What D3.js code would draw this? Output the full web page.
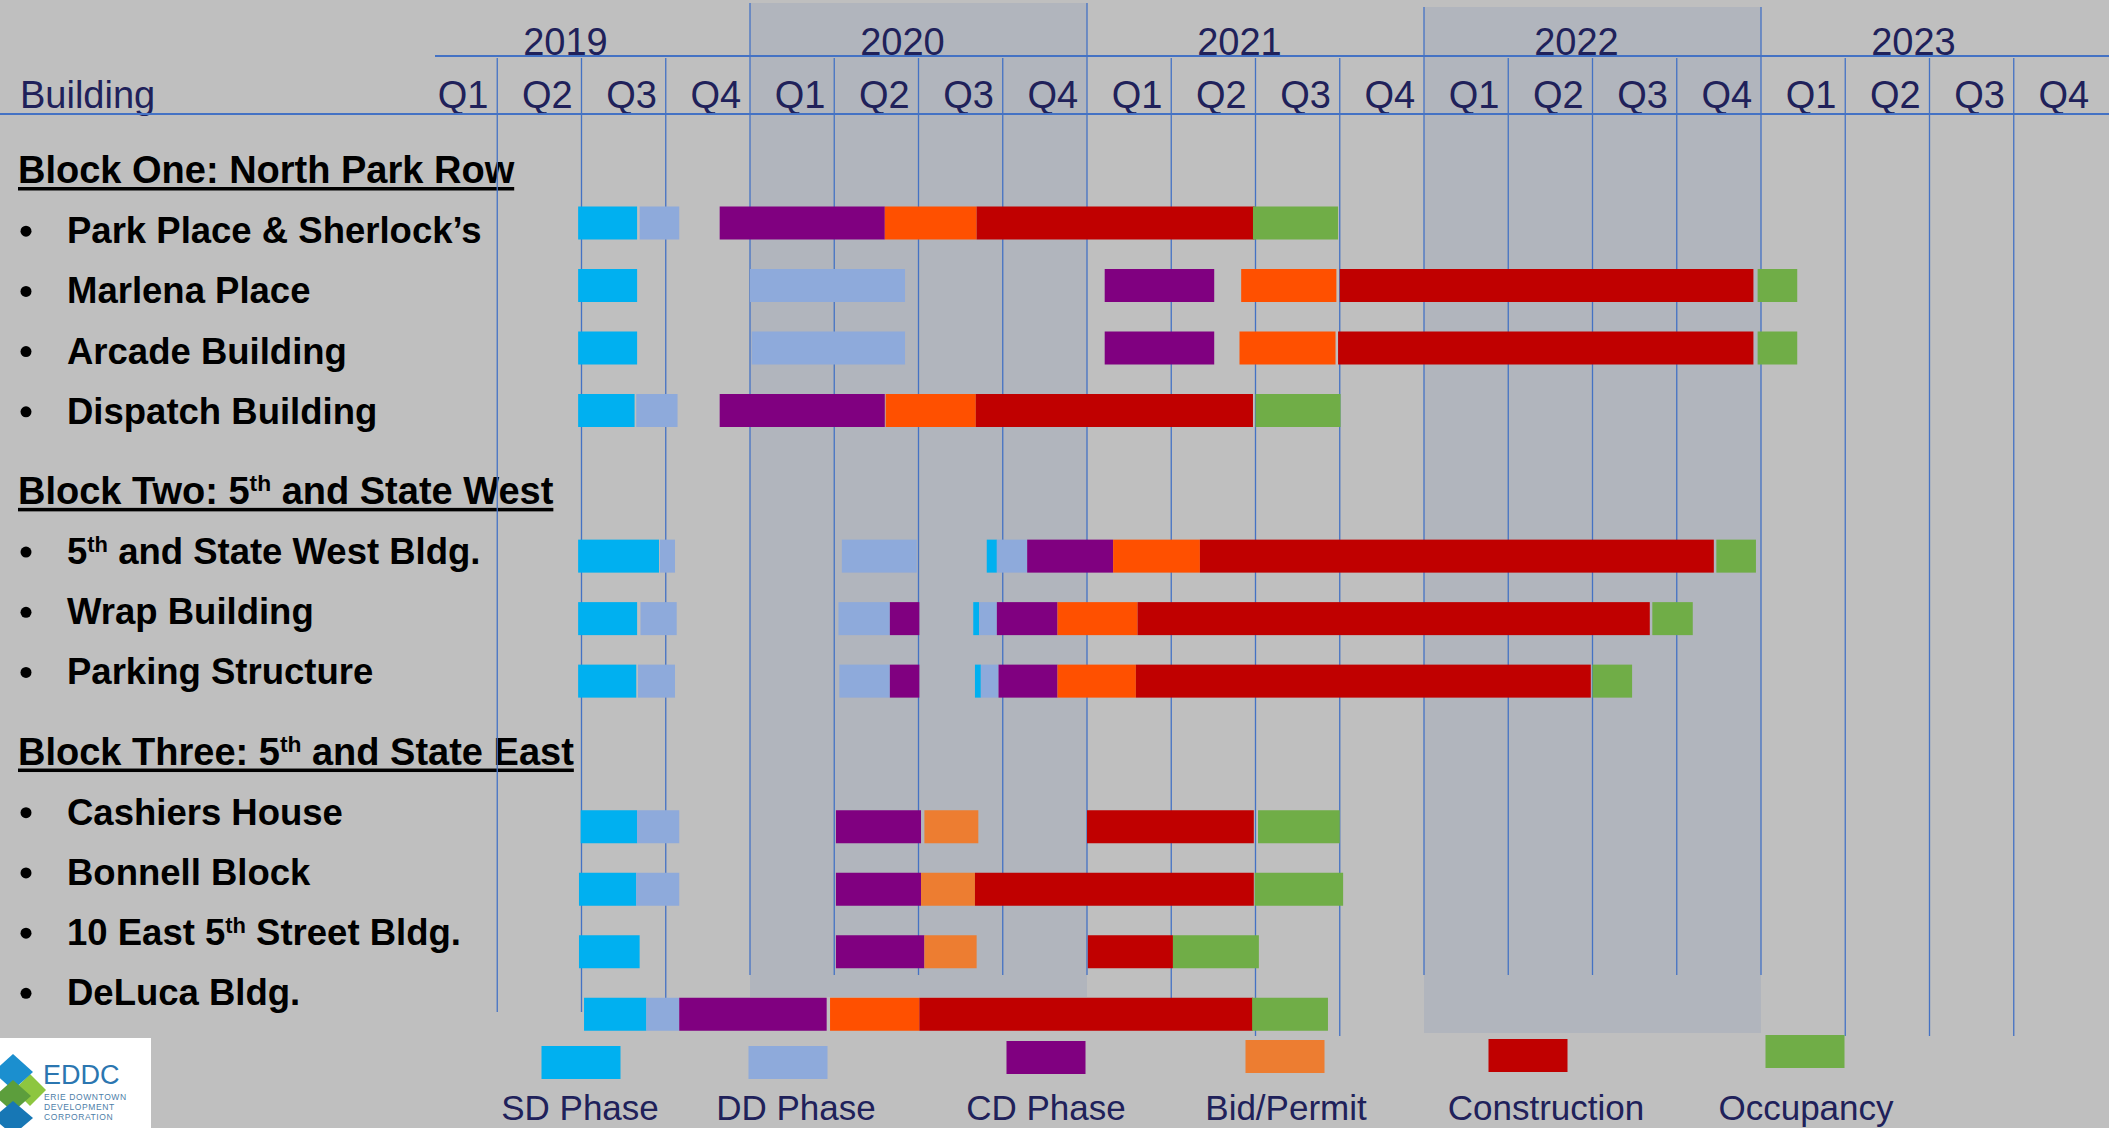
<!DOCTYPE html>
<html>
<head>
<meta charset="utf-8">
<script src="https://cdn.jsdelivr.net/npm/d3@7"></script>
<style>
    html, body { margin: 0; padding: 0; background: #bfbfbf; }
    svg { display: block; }
</style>
</head>
<body>
<svg id="chart"></svg>
<script>
// ---- data ----
const years = [2019, 2020, 2021, 2022, 2023];
const quarters = ["Q1", "Q2", "Q3", "Q4"];
const shadedYears = [2020, 2022];

const blockNames = [
    "Block One: North Park Row",
    "Block Two: 5th and State West",
    "Block Three: 5th and State East"
];
const blockBuildings = [
    ["Park Place & Sherlock’s", "Marlena Place", "Arcade Building", "Dispatch Building"],
    ["5th and State West Bldg.", "Wrap Building", "Parking Structure"],
    ["Cashiers House", "Bonnell Block", "10 East 5th Street Bldg.", "DeLuca Bldg."]
];

const phaseKeys = ["SD", "DD", "CD", "BID2", "CON", "OCC"];
const phaseNames = ["SD Phase", "DD Phase", "CD Phase", "Bid/Permit", "Construction", "Occupancy"];

// [building, phase, start, end]; start/end counted in quarters from the start of 2019
const blockOneBars = [
    ["Park Place & Sherlock’s", "SD", 1.96, 2.66],
    ["Park Place & Sherlock’s", "DD", 2.69, 3.16],
    ["Park Place & Sherlock’s", "CD", 3.64, 5.60],
    ["Park Place & Sherlock’s", "BID", 5.60, 6.69],
    ["Park Place & Sherlock’s", "CON", 6.69, 9.99],
    ["Park Place & Sherlock’s", "OCC", 9.97, 10.98],
    ["Marlena Place", "SD", 1.96, 2.66],
    ["Marlena Place", "DD", 4.00, 5.84],
    ["Marlena Place", "CD", 8.21, 9.51],
    ["Marlena Place", "BID", 9.83, 10.96],
    ["Marlena Place", "CON", 11.00, 15.91],
    ["Marlena Place", "OCC", 15.96, 16.43],
    ["Arcade Building", "SD", 1.96, 2.66],
    ["Arcade Building", "DD", 4.02, 5.84],
    ["Arcade Building", "CD", 8.21, 9.51],
    ["Arcade Building", "BID", 9.81, 10.95],
    ["Arcade Building", "CON", 10.98, 15.91],
    ["Arcade Building", "OCC", 15.96, 16.43],
    ["Dispatch Building", "SD", 1.96, 2.63],
    ["Dispatch Building", "DD", 2.65, 3.14],
    ["Dispatch Building", "CD", 3.64, 5.60],
    ["Dispatch Building", "BID", 5.61, 6.68],
    ["Dispatch Building", "CON", 6.68, 9.97],
    ["Dispatch Building", "OCC", 10.00, 11.01]
];
const blockTwoBars = [
    ["5th and State West Bldg.", "SD", 1.96, 2.92],
    ["5th and State West Bldg.", "DD", 2.93, 3.11],
    ["5th and State West Bldg.", "DD", 5.09, 5.98],
    ["5th and State West Bldg.", "SD", 6.81, 6.93],
    ["5th and State West Bldg.", "DD", 6.93, 7.29],
    ["5th and State West Bldg.", "CD", 7.29, 8.31],
    ["5th and State West Bldg.", "BID", 8.31, 9.34],
    ["5th and State West Bldg.", "CON", 9.34, 15.44],
    ["5th and State West Bldg.", "OCC", 15.47, 15.94],
    ["Wrap Building", "SD", 1.96, 2.66],
    ["Wrap Building", "DD", 2.70, 3.13],
    ["Wrap Building", "DD", 5.05, 5.66],
    ["Wrap Building", "CD", 5.66, 6.01],
    ["Wrap Building", "SD", 6.65, 6.72],
    ["Wrap Building", "DD", 6.72, 6.93],
    ["Wrap Building", "CD", 6.93, 7.65],
    ["Wrap Building", "BID", 7.65, 8.60],
    ["Wrap Building", "CON", 8.60, 14.68],
    ["Wrap Building", "OCC", 14.71, 15.19],
    ["Parking Structure", "SD", 1.96, 2.65],
    ["Parking Structure", "DD", 2.67, 3.11],
    ["Parking Structure", "DD", 5.06, 5.66],
    ["Parking Structure", "CD", 5.66, 6.01],
    ["Parking Structure", "SD", 6.67, 6.74],
    ["Parking Structure", "DD", 6.74, 6.95],
    ["Parking Structure", "CD", 6.95, 7.65],
    ["Parking Structure", "BID", 7.65, 8.58],
    ["Parking Structure", "CON", 8.58, 13.98],
    ["Parking Structure", "OCC", 14.00, 14.47]
];
const blockThreeBars = [
    ["Cashiers House", "SD", 1.99, 2.66],
    ["Cashiers House", "DD", 2.66, 3.16],
    ["Cashiers House", "CD", 5.02, 6.03],
    ["Cashiers House", "BID2", 6.07, 6.71],
    ["Cashiers House", "CON", 8.00, 9.98],
    ["Cashiers House", "OCC", 10.03, 11.00],
    ["Bonnell Block", "SD", 1.97, 2.65],
    ["Bonnell Block", "DD", 2.65, 3.16],
    ["Bonnell Block", "CD", 5.02, 6.03],
    ["Bonnell Block", "BID2", 6.03, 6.67],
    ["Bonnell Block", "CON", 6.67, 9.98],
    ["Bonnell Block", "OCC", 9.99, 11.04],
    ["10 East 5th Street Bldg.", "SD", 1.97, 2.69],
    ["10 East 5th Street Bldg.", "CD", 5.02, 6.07],
    ["10 East 5th Street Bldg.", "BID2", 6.07, 6.69],
    ["10 East 5th Street Bldg.", "CON", 8.01, 9.02],
    ["10 East 5th Street Bldg.", "OCC", 9.02, 10.04],
    ["DeLuca Bldg.", "SD", 2.03, 2.77],
    ["DeLuca Bldg.", "DD", 2.77, 3.16],
    ["DeLuca Bldg.", "CD", 3.16, 4.91],
    ["DeLuca Bldg.", "BID", 4.95, 6.01],
    ["DeLuca Bldg.", "CON", 6.01, 9.97],
    ["DeLuca Bldg.", "OCC", 9.96, 10.86]
];

// ---- style / layout ----
const W = 2109, H = 1128;
const font = "'Liberation Sans', Arial, sans-serif";
const navy = "#20215a";
const gridBlue = "#4472c4";
const colors = {
    SD: "#00b0f0", DD: "#8eaadb", CD: "#800080",
    BID: "#ff5000", BID2: "#ed7d31", CON: "#c00000", OCC: "#70ad47"
};
const legendSwatchX = [581, 788, 1046, 1285, 1528, 1805];
const legendSwatchTop = [1046, 1046, 1041, 1040, 1039, 1035];
const legendLabelX = [580, 796, 1046, 1286, 1546, 1806];

const svg = d3.select("#chart").attr("width", W).attr("height", H);
svg.append("rect").attr("width", W).attr("height", H).attr("fill", "#bfbfbf");

const x = d3.scaleLinear().domain([0, 20]).range([413, 2098]);

// row slots: headers get a little extra room above them
const rows = [];
let s = 0;
blockNames.forEach((b, bi) => {
    if (bi > 0) s += 1.33;
    rows.push({type: "header", label: b, slot: s});
    blockBuildings[bi].forEach(n => {
        s += 1;
        rows.push({type: "item", label: n, slot: s});
    });
});
const slotOf = new Map(rows.map(r => [r.label, r.slot]));
const labelY = d3.scaleLinear().domain([0, 1]).range([170, 230.2]);
const barY = d3.scaleLinear().domain([0, 1]).range([160.5, 223]);

// shaded years
svg.append("g").selectAll("rect")
    .data(shadedYears)
    .join("rect")
    .attr("x", d => x((d - 2019) * 4))
    .attr("width", d => x((d - 2018) * 4) - x((d - 2019) * 4))
    .attr("y", d => d === 2020 ? 3 : 7)
    .attr("height", d => d === 2020 ? 994 : 1026)
    .attr("fill", "#b1b5bd");

// header texts
const head = svg.append("g").attr("font-family", font).attr("fill", navy);
head.append("text").attr("x", 20).attr("y", 108).attr("font-size", 38).text("Building");
head.selectAll(".yr")
    .data(years)
    .join("text")
    .attr("class", "yr")
    .attr("x", d => x((d - 2019) * 4 + 2) - 16)
    .attr("y", 55)
    .attr("text-anchor", "middle")
    .attr("font-size", 38)
    .text(d => d);
head.selectAll(".qt")
    .data(d3.range(20))
    .join("text")
    .attr("class", "qt")
    .attr("x", d => x(d + 0.5) + 8)
    .attr("y", 108)
    .attr("text-anchor", "middle")
    .attr("font-size", 38)
    .text(d => quarters[d % 4]);

// row labels (with superscript "th")
function addLabel(sel, str) {
    str.split(/(?<=\d)(th)/).forEach((part, i) => {
        const t = sel.append("tspan").text(part);
        if (i % 2 === 1) t.attr("baseline-shift", "super").attr("font-size", "60%");
    });
}
const labels = svg.append("g").attr("font-family", font).attr("font-weight", "bold").attr("fill", "#000");
rows.forEach(r => {
    const cy = labelY(r.slot);
    if (r.type === "header") {
        const t = labels.append("text").attr("x", 18).attr("y", cy + 13).attr("font-size", 38);
        addLabel(t, r.label);
        const len = t.node().getComputedTextLength();
        labels.append("rect").attr("x", 18).attr("y", cy + 17).attr("width", len).attr("height", 3.5);
    } else {
        labels.append("circle").attr("cx", 26).attr("cy", cy + 1).attr("r", 5.5);
        const t = labels.append("text").attr("x", 67).attr("y", cy + 13).attr("font-size", 36.5);
        addLabel(t, r.label);
    }
});

// grid lines
function lineTop(q) {
    if (q % 4 !== 0) return 58;
    return q < 12 ? 3 : 7;
}
function lineBottom(q) {
    if (q <= 2) return 1012;
    if (q === 3 || q === 9) return 1000;
    if (q === 10 || q === 11 || q >= 17) return 1036;
    return 975;
}
const grid = svg.append("g").attr("stroke", gridBlue).attr("stroke-width", 1.3);
grid.selectAll("line")
    .data(d3.range(1, 20))
    .join("line")
    .attr("x1", d => x(d)).attr("x2", d => x(d))
    .attr("y1", lineTop).attr("y2", lineBottom);
grid.append("line").attr("x1", 435).attr("x2", W).attr("y1", 56).attr("y2", 56).attr("stroke-width", 2);
grid.append("line").attr("x1", 0).attr("x2", W).attr("y1", 114).attr("y2", 114).attr("stroke-width", 2);

// bars
const bars = [...blockOneBars, ...blockTwoBars, ...blockThreeBars];
svg.append("g").selectAll("rect")
    .data(bars)
    .join("rect")
    .attr("x", d => x(d[2]))
    .attr("width", d => x(d[3]) - x(d[2]))
    .attr("y", d => barY(slotOf.get(d[0])) - 16.5)
    .attr("height", 33)
    .attr("fill", d => colors[d[1]]);

// legend
const legend = svg.append("g").attr("font-family", font);
legend.selectAll("rect")
    .data(phaseKeys)
    .join("rect")
    .attr("x", (d, i) => legendSwatchX[i] - 39.5)
    .attr("y", (d, i) => legendSwatchTop[i])
    .attr("width", 79).attr("height", 33)
    .attr("fill", d => colors[d]);
legend.selectAll("text")
    .data(phaseNames)
    .join("text")
    .attr("x", (d, i) => legendLabelX[i])
    .attr("y", 1120)
    .attr("text-anchor", "middle")
    .attr("font-size", 35)
    .attr("fill", navy)
    .text(d => d);

// logo
const logo = svg.append("g");
logo.append("rect").attr("x", 0).attr("y", 1038).attr("width", 151).attr("height", 90).attr("fill", "#fff");
const diamond = (cx, cy, w, h) => `M${cx - w},${cy}L${cx},${cy - h}L${cx + w},${cy}L${cx},${cy + h}Z`;
logo.append("path").attr("d", diamond(30, 1090, 16, 16)).attr("fill", "#8dc63f");
logo.append("path").attr("d", diamond(13, 1072, 20, 18)).attr("fill", "#1b8fcf");
logo.append("path").attr("d", diamond(13, 1096, 18, 16)).attr("fill", "#5c9e3c");
logo.append("path").attr("d", diamond(13, 1118, 20, 17)).attr("fill", "#1777b5");
logo.append("text").attr("x", 43).attr("y", 1084).attr("font-family", font)
    .attr("font-size", 27).attr("fill", "#2b76b0").text("EDDC");
logo.selectAll(".sub")
    .data(["ERIE DOWNTOWN", "DEVELOPMENT", "CORPORATION"])
    .join("text")
    .attr("class", "sub")
    .attr("x", 44)
    .attr("y", (d, i) => 1100 + i * 10)
    .attr("font-family", font)
    .attr("font-size", 8.5)
    .attr("letter-spacing", 0.6)
    .attr("fill", "#4d7ea8")
    .text(d => d);
</script>
</body>
</html>
